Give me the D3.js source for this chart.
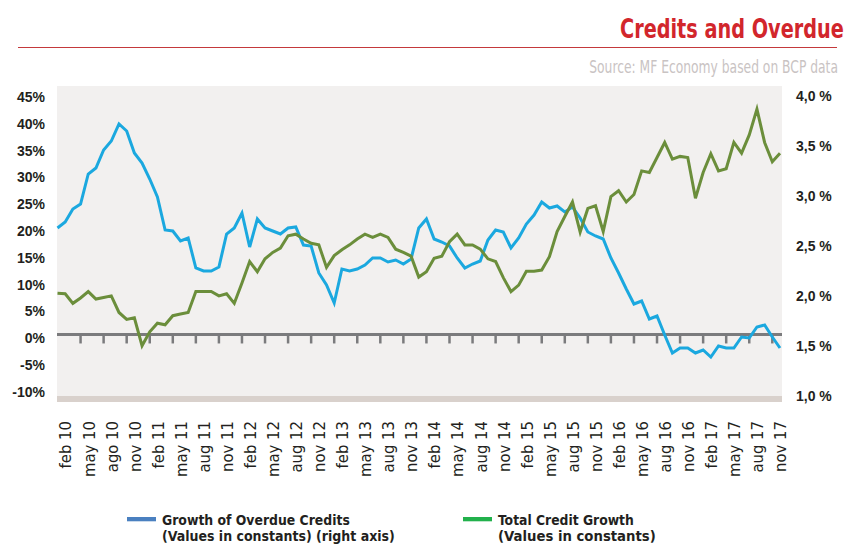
<!DOCTYPE html>
<html>
<head>
<meta charset="utf-8">
<script src="https://cdn.jsdelivr.net/npm/d3@7"></script>
<style>
  body { margin: 0; background: #fff; }
  text { font-family: "Liberation Sans", Arial, sans-serif; }
  .narrow { font-family: "Liberation Sans Narrow", "Arial Narrow", "DejaVu Sans Condensed", sans-serif; font-stretch: condensed; }
</style>
</head>
<body>
<div id="chart"></div>
<script>
var width = 845,
    height = 544;

// quarterly labels shown under the chart
var tickLabels = ["feb 10","may 10","ago 10","nov 10","feb 11","may 11","aug 11","nov 11",
                  "feb 12","may 12","aug 12","nov 12","feb 13","may 13","aug 13","nov 13",
                  "feb 14","may 14","aug 14","nov 14","feb 15","may 15","aug 15","nov 15",
                  "feb 16","may 16","aug 16","nov 16","feb 17","may 17","aug 17","nov 17"];

// left axis ticks (%), right axis ticks (%)
var leftTicks = [-10, -5, 0, 5, 10, 15, 20, 25, 30, 35, 40, 45];
var rightTicks = [1.0, 1.5, 2.0, 2.5, 3.0, 3.5, 4.0];

// Growth of Overdue Credits (right axis) - jan 10 .. nov 17, monthly
var overdue = [2.68, 2.74, 2.87, 2.92, 3.22, 3.28, 3.46, 3.55, 3.72, 3.65, 3.43, 3.33, 3.17, 2.99, 2.66, 2.65, 2.55,
               2.58, 2.28, 2.25, 2.25, 2.29, 2.62, 2.68, 2.83, 2.49, 2.77, 2.68, 2.65, 2.62, 2.68, 2.69, 2.51, 2.50,
               2.23, 2.11, 1.93, 2.27, 2.25, 2.27, 2.31, 2.38, 2.38, 2.34, 2.36, 2.32, 2.37, 2.68, 2.77, 2.57, 2.54,
               2.50, 2.38, 2.28, 2.32, 2.35, 2.56, 2.66, 2.64, 2.48, 2.58, 2.72, 2.81, 2.94,
               2.88, 2.90, 2.84, 2.89, 2.78, 2.64, 2.60, 2.57, 2.38, 2.23, 2.07, 1.92, 1.95, 1.77, 1.80, 1.61,
               1.43, 1.48, 1.48, 1.43, 1.46, 1.39, 1.50, 1.48, 1.48, 1.59, 1.58, 1.69, 1.71, 1.59, 1.48];

// Total Credit Growth (left axis)
var totalCredit = [7.7, 7.6, 5.8, 6.8, 8.0, 6.6, 6.9, 7.2, 4.1, 2.8, 3.1, -2.1, 0.5, 2.1, 1.8, 3.5, 3.8,
                   4.1, 8.0, 8.0, 8.0, 7.2, 7.6, 5.8, 9.6, 13.6, 11.7, 14.1, 15.3, 16.1, 18.4, 18.7, 17.8, 17.0,
                   16.7, 12.5, 14.7, 15.8, 16.7, 17.8, 18.7, 18.1, 18.7, 18.1, 15.9, 15.3, 14.6, 10.7, 11.7, 14.2,
                   14.6, 17.3, 18.7, 16.7, 16.7, 15.9, 14.1, 13.6, 10.6, 8.0, 9.2, 11.8, 11.8, 12.0,
                   14.5, 19.2, 22.0, 24.7, 19.1, 23.5, 24.0, 19.2, 25.7, 26.8, 24.7, 26.1, 30.5, 30.2, 33.0, 35.8,
                   32.7, 33.2, 33.0, 25.4, 30.2, 33.7, 30.5, 30.9, 35.8, 33.8, 37.2, 42.0, 35.8, 32.2, 33.8];

var monthNames = ["jan","feb","mar","apr","may","jun","jul","aug","sep","oct","nov","dec"];
var months = [];
for (var yr = 10; yr <= 17; yr++) {
    for (var m = 0; m < 12; m++) {
        if (yr == 17 && m > 10) break;
        months.push(monthNames[m] + " " + yr);
    }
}

var plotLeft = 57, plotRight = 782, plotTop = 86, plotBottom = 396;

var x = d3.scalePoint().domain(months).range([57.5, 780]);
var yLeft = d3.scaleLinear().domain([-10, 45]).range([388.1, 93.1]);
var yRight = d3.scaleLinear().domain([1, 4]).range([396, 96]);

var svg = d3.select("#chart").append("svg")
    .attr("width", width)
    .attr("height", height);

// squeeze a text horizontally so it takes w pixels (no narrow font installed)
function fit(sel, w) {
    sel.each(function() {
        var t = d3.select(this);
        var s = w / this.getComputedTextLength();
        t.attr("transform", "translate(" + t.attr("x") + "," + t.attr("y") + ") scale(" + s + ",1)")
         .attr("x", 0).attr("y", 0);
    });
}

// title + rule + source
svg.append("text")
    .attr("class", "narrow")
    .attr("x", 620).attr("y", 37.5)
    .style("font-size", "27px").style("font-weight", "bold")
    .style("fill", "#d2262c")
    .text("Credits and Overdue")
    .call(fit, 224);

svg.append("line")
    .attr("x1", 18).attr("x2", 837)
    .attr("y1", 47.5).attr("y2", 47.5)
    .style("stroke", "#c4393b").style("stroke-width", 1);

svg.append("text")
    .attr("class", "narrow")
    .attr("x", 838).attr("y", 72.5)
    .attr("text-anchor", "end")
    .style("font-size", "17px")
    .style("fill", "#c9c3c3")
    .text("Source: MF Economy based on BCP data")
    .call(fit, 249);

// plot background and bottom band
svg.append("rect")
    .attr("x", plotLeft).attr("y", plotTop)
    .attr("width", plotRight - plotLeft).attr("height", plotBottom - plotTop)
    .style("fill", "#f2f0ef");
svg.append("rect")
    .attr("x", plotLeft).attr("y", plotBottom)
    .attr("width", plotRight - plotLeft).attr("height", 6)
    .style("fill", "#d9d1cc");

// zero line with quarterly ticks
var y0 = yLeft(0);
svg.append("line")
    .attr("x1", plotLeft).attr("x2", plotRight)
    .attr("y1", y0).attr("y2", y0)
    .style("stroke", "#7b7b7d").style("stroke-width", 3);

var tickMonths = months.filter(function(d, i) { return i > 0 && i % 3 == 0; });
svg.selectAll(".zt")
    .data(tickMonths)
    .enter().append("line")
    .attr("class", "zt")
    .attr("x1", function(d) { return x(d); })
    .attr("x2", function(d) { return x(d); })
    .attr("y1", y0).attr("y2", y0 + 9)
    .style("stroke", "#7b7b7d").style("stroke-width", 2.5);

// lines
var lineRight = d3.line()
    .x(function(d, i) { return x(months[i]); })
    .y(function(d) { return yRight(d); });
var lineLeft = d3.line()
    .x(function(d, i) { return x(months[i]); })
    .y(function(d) { return yLeft(d); });

svg.append("path")
    .datum(overdue)
    .attr("d", lineRight)
    .style("fill", "none").style("stroke", "#1ba8df").style("stroke-width", 3);

svg.append("path")
    .datum(totalCredit)
    .attr("d", lineLeft)
    .style("fill", "none").style("stroke", "#6b8e3b").style("stroke-width", 3);

// left axis
var leftAxis = svg.append("g")
    .attr("transform", "translate(45,0)")
    .call(d3.axisLeft(yLeft).tickValues(leftTicks).tickSize(0).tickPadding(0)
        .tickFormat(function(d) { return d + "%"; }));
leftAxis.select(".domain").remove();
leftAxis.selectAll("text")
    .attr("dy", "0.35em")
    .attr("transform", "translate(0,3.4)")
    .style("font-family", "'Liberation Sans', Arial, sans-serif")
    .style("font-size", "14px").style("font-weight", "bold")
    .style("fill", "#231f20");

// right axis
var rightAxis = svg.append("g")
    .attr("transform", "translate(796,0)")
    .call(d3.axisRight(yRight).tickValues(rightTicks).tickSize(0).tickPadding(0)
        .tickFormat(function(d) { return d3.format(".1f")(d).replace(".", ",") + " %"; }));
rightAxis.select(".domain").remove();
rightAxis.selectAll("text")
    .attr("dy", "0.35em")
    .style("font-family", "'Liberation Sans', Arial, sans-serif")
    .style("font-size", "14px").style("font-weight", "bold")
    .style("fill", "#231f20");

// x labels, rotated
var labelMonths = months.filter(function(d, i) { return i % 3 == 1; });
var xAxis = svg.append("g")
    .attr("transform", "translate(0,421)")
    .call(d3.axisBottom(x).tickValues(labelMonths).tickSize(0).tickPadding(0)
        .tickFormat(function(d, i) { return tickLabels[i]; }));
xAxis.select(".domain").remove();
xAxis.selectAll("text")
    .attr("class", "narrow")
    .attr("y", 0).attr("x", 0)
    .attr("dy", "0.35em")
    .attr("transform", "rotate(-90)")
    .style("text-anchor", "end")
    .style("font-size", "16.5px")
    .style("fill", "#231f20");

// legend
var legend = [
    {x: 127, color: "#4a80c0", lines: ["Growth of Overdue Credits", "(Values in constants) (right axis)"], widths: [188, 233]},
    {x: 463, color: "#22b14c", lines: ["Total Credit Growth", "(Values in constants)"], widths: [136, 158]}
];
var lg = svg.selectAll(".lg")
    .data(legend)
    .enter().append("g")
    .attr("class", "lg")
    .attr("transform", function(d) { return "translate(" + d.x + ",0)"; });
lg.append("rect")
    .attr("x", 0).attr("y", 517)
    .attr("width", 29).attr("height", 4.3)
    .style("fill", function(d) { return d.color; });
lg.each(function(d) {
    var g = d3.select(this);
    d.lines.forEach(function(t, j) {
        g.append("text")
            .attr("class", "narrow")
            .attr("x", 35).attr("y", 524.5 + j * 16.5)
            .style("font-size", "14px").style("font-weight", "bold")
            .style("fill", "#231f20")
            .text(t)
            .call(fit, d.widths[j]);
    });
});
</script>
</body>
</html>
